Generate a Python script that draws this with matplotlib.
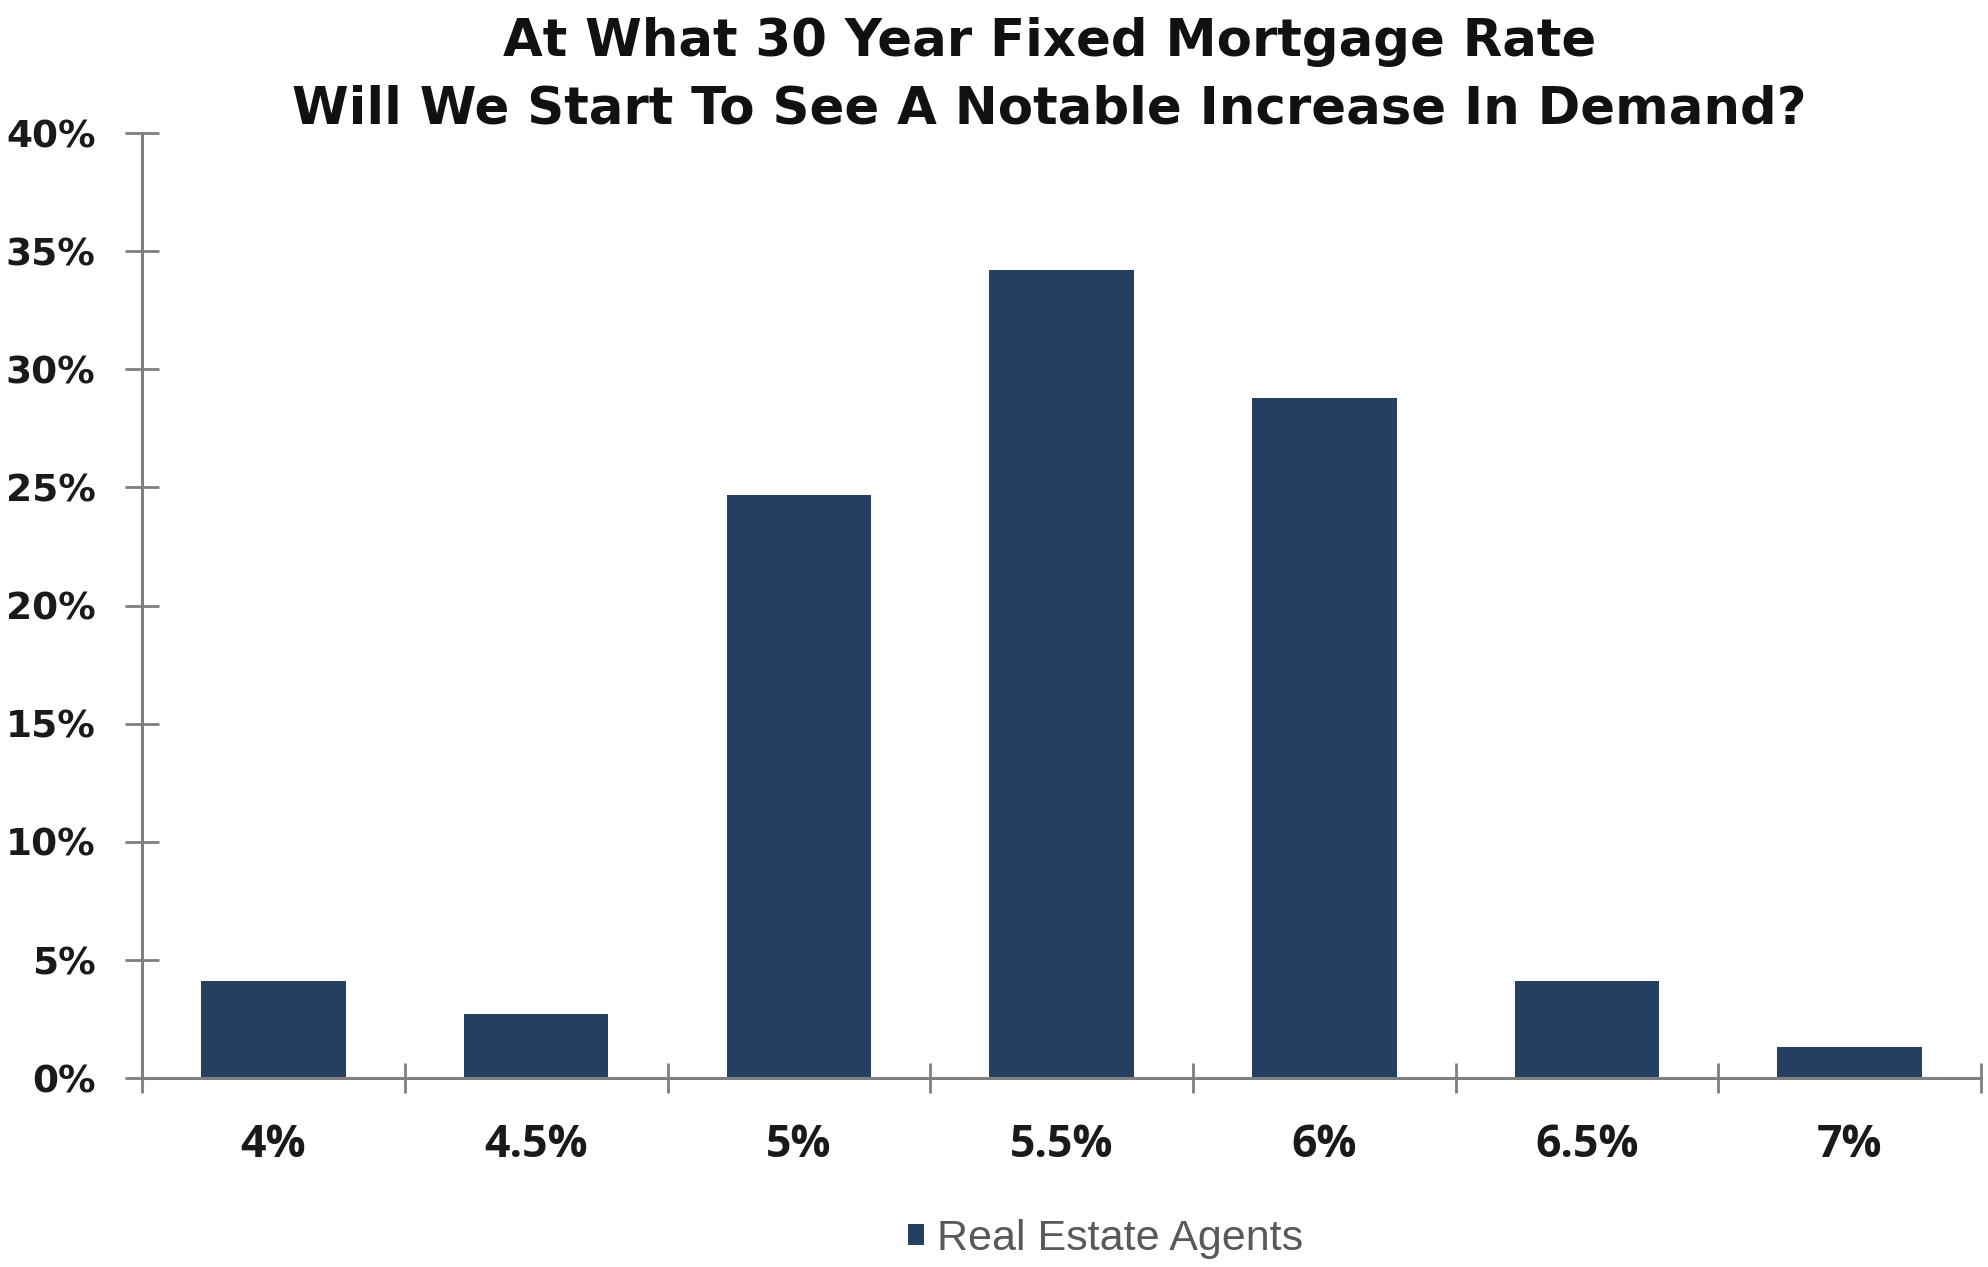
import matplotlib
matplotlib.use("Agg")
import matplotlib.pyplot as plt
import numpy as np
from matplotlib.ticker import FixedLocator, FuncFormatter

# survey answers: rate at which demand picks up, share of agents
rates = ["4%", "4.5%", "5%", "5.5%", "6%", "6.5%", "7%"]
agents = [4.1, 2.7, 24.7, 34.2, 28.8, 4.1, 1.3]
y_ticks = [0, 5, 10, 15, 20, 25, 30, 35, 40]

bar_color = "#243f61"
axis_color = "#7f7f7f"

fig = plt.figure(figsize=(19.88, 12.67), dpi=100)
ax = fig.add_axes([0.0715, 0.149, 0.925, 0.746])

x = np.arange(len(rates))
ax.bar(x, agents, width=0.55, color=bar_color, label="Real Estate Agents", zorder=2)

ax.set_xlim(-0.5, len(rates) - 0.5)
ax.set_ylim(0, 40)

for side in ["top", "right"]:
    ax.spines[side].set_visible(False)
for side in ["left", "bottom"]:
    ax.spines[side].set_color(axis_color)
    ax.spines[side].set_linewidth(2.2)
    ax.spines[side].set_zorder(3)

# y axis
ax.yaxis.set_major_locator(FixedLocator(y_ticks))
ax.yaxis.set_major_formatter(FuncFormatter(lambda v, p: "{:.0f}%".format(v)))
ax.tick_params(axis="y", direction="inout", length=25, width=2, color=axis_color,
               pad=21, labelsize=27, labelcolor="#1a1a1a")
for lbl in ax.get_yticklabels():
    lbl.set_fontweight("bold")
    lbl.set_family("DejaVu Sans")

# x axis: ticks between categories, labels under the bars
ax.xaxis.set_major_locator(FixedLocator(np.arange(-0.5, len(rates), 1.0)))
ax.xaxis.set_major_formatter(FuncFormatter(lambda v, p: ""))
ax.xaxis.set_minor_locator(FixedLocator(x))
ax.set_xticklabels(rates, minor=True)
ax.tick_params(axis="x", which="major", direction="inout", length=21.6, width=2,
               color=axis_color)
ax.tick_params(axis="x", which="minor", length=0, pad=32, labelsize=32,
               labelcolor="#1a1a1a")
for lbl in ax.get_xticklabels(minor=True):
    lbl.set_fontweight("bold")
    lbl.set_family(["Open Sans", "DejaVu Sans"])

fig.text(0.528, 0.94, "At What 30 Year Fixed Mortgage Rate\nWill We Start To See A Notable Increase In Demand?",
         ha="center", va="center", fontsize=37, fontweight="bold",
         family="DejaVu Sans", color="#111111", linespacing=1.45)

leg = fig.legend(loc="center", bbox_to_anchor=(0.556, 0.022), frameon=False,
                 handlelength=0.38, handleheight=0.38, handletextpad=0.3,
                 prop={"family": ["Liberation Sans", "DejaVu Sans"], "size": 31})
for t in leg.get_texts():
    t.set_color("#595959")

fig.savefig("out.png", dpi=100)
